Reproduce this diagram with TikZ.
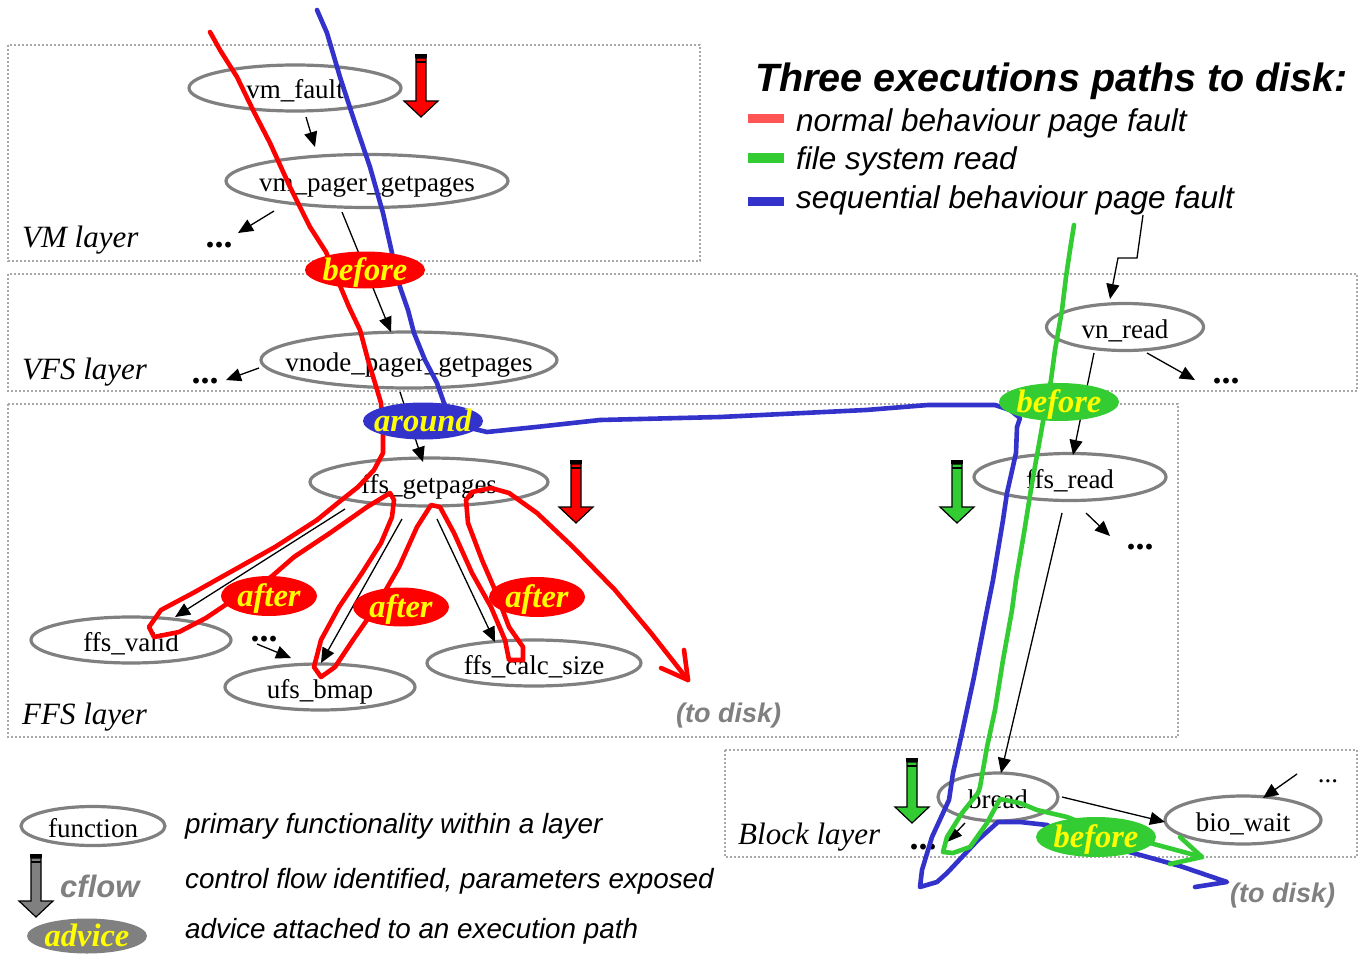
\documentclass[tikz,border=0pt]{standalone}
\usepackage{fontspec}
\setmainfont{Liberation Serif}
\setsansfont{Liberation Sans}
\usetikzlibrary{arrows.meta,shapes.geometric}

\definecolor{pathred}{HTML}{FF0000}
\definecolor{pathgreen}{HTML}{33CC33}
\definecolor{pathblue}{HTML}{3333CC}
\definecolor{keyred}{HTML}{FF5555}
\definecolor{fngray}{HTML}{808080}
\definecolor{boxgray}{HTML}{A8A8A8}
\definecolor{advyellow}{HTML}{FFFF00}

% block arrow marking an identified control flow: x, top, tip, fill colour
\newcommand{\cflowarrow}[4]{%
  \filldraw[fill=#4, draw=black, line width=1.2pt, line join=miter]
    (#1-5,#2+4) -- (#1+5,#2+4) -- (#1+5,#3-16) -- (#1+17,#3-16) -- (#1,#3)
    -- (#1-17,#3-16) -- (#1-5,#3-16) -- cycle;
  \fill[black] (#1-6,#2) rectangle (#1+6,#2+4);
  \draw[black, line width=1.2pt] (#1-5,#2+8) -- (#1+5,#2+8);
}
% label whose width does not widen its ellipse
\newcommand{\lbl}[1]{\makebox[0pt]{#1}}

\tikzset{
  fn/.style={ellipse, draw=fngray, line width=3.2pt, inner sep=0pt,
    text height=24pt, text depth=2pt,
    font=\fontsize{27}{30}\selectfont},
  advice/.style={ellipse, inner sep=0pt, text=advyellow,
    text height=22pt, text depth=2pt,
    font=\fontsize{32.5}{35}\selectfont\bfseries\itshape},
  layerbox/.style={draw=boxgray, line width=1.5pt, dash pattern=on 2pt off 2pt},
  layerlabel/.style={anchor=base west, inner sep=0pt,
    font=\fontsize{31}{34}\selectfont\itshape},
  call/.style={draw=black, line width=1.3pt, -{Triangle[length=15pt,width=13pt]}},
  dots/.style={anchor=base, inner sep=0pt, font=\fontsize{36}{38}\selectfont\bfseries},
  exec/.style={line width=4.6pt, line join=round, line cap=round},
  todisk/.style={anchor=base west, inner sep=0pt, text=fngray,
    font=\sffamily\bfseries\itshape\fontsize{27}{30}\selectfont},
  keytext/.style={anchor=base west, inner sep=0pt,
    font=\sffamily\itshape\fontsize{31.5}{36}\selectfont},
  notetext/.style={anchor=base west, inner sep=0pt,
    font=\sffamily\itshape\fontsize{27.8}{32}\selectfont},
}

\begin{document}
\begin{tikzpicture}[x=1pt,y=-1pt]
\useasboundingbox (0,0) rectangle (1366,955);
\fill[white] (0,0) rectangle (1366,955);

% layers
\draw[layerbox] (8,45) rectangle (700,261);
\draw[layerbox] (8,274) rectangle (1357,391);
\draw[layerbox] (8,404) rectangle (1178,737);
\draw[layerbox] (725,750) rectangle (1357,857);

\node[layerlabel] (lvm)  at (22,247)  {VM layer};
\node[layerlabel] (lvfs) at (22,379)  {VFS layer};
\node[layerlabel] (lffs) at (22,724)  {FFS layer};
\node[layerlabel] (lblk) at (738,844) {Block layer};

% functions
\node[fn, minimum width=212pt, minimum height=46pt] (vmfault)   at (295,88)  {\lbl{vm\_fault}};
\node[fn, minimum width=282pt, minimum height=53pt] (vmpager)   at (367,181) {\lbl{vm\_pager\_getpages}};
\node[fn, minimum width=296pt, minimum height=56pt] (vnodepager) at (409,360) {\lbl{vnode\_pager\_getpages}};
\node[fn, minimum width=238pt, minimum height=48pt] (ffsget)    at (429,482) {\lbl{ffs\_getpages}};
\node[fn, minimum width=200pt, minimum height=46pt] (ffsvalid)  at (131,640) {\lbl{ffs\_valid}};
\node[fn, minimum width=190pt, minimum height=46pt] (ufsbmap)   at (320,687) {\lbl{ufs\_bmap}};
\node[fn, minimum width=214pt, minimum height=46pt] (ffscalc)   at (534,663) {\lbl{ffs\_calc\_size}};
\node[fn, minimum width=157pt, minimum height=47pt] (vnread)    at (1125,327) {\lbl{vn\_read}};
\node[fn, minimum width=192pt, minimum height=47pt] (ffsread)   at (1070,477) {\lbl{ffs\_read}};
\node[fn, minimum width=120pt, minimum height=48pt] (bread)     at (998,797) {\lbl{bread}};
\node[fn, minimum width=156pt, minimum height=48pt] (biowait)   at (1243,820) {\lbl{bio\_wait}};

% elided callers and callees
\node[dots] (vmdots)  at (219,247)  {...};
\node[dots] (vfsdots) at (205,383)  {...};
\node[dots] (ffsdots) at (264,641)  {...};
\node[dots] (vndots)  at (1226,383) {...};
\node[dots] (frdots)  at (1140,549) {...};
\node[dots] (blkdots) at (923,849)  {...};
\node[anchor=base, inner sep=0pt, font=\fontsize{27}{30}\selectfont] (biodots) at (1328,782) {...};

% calls
\draw[call] ([shift={(11,29)}]vmfault.center) -- ([shift={(-52,-34)}]vmpager.center);
\draw[call] ([shift={(-25,31)}]vmpager.center) -- ([shift={(-18,-28)}]vnodepager.center);
\draw[call] ([shift={(-9,32)}]vnodepager.center) -- ([shift={(-6,-20)}]ffsget.center);
\draw[call] ([shift={(-84,27)}]ffsget.center) -- ([shift={(44,-23)}]ffsvalid.center);
\draw[call] ([shift={(-27,37)}]ffsget.center) -- ([shift={(1,-24)}]ufsbmap.center);
\draw[call] ([shift={(8,37)}]ffsget.center) -- ([shift={(-39,-21)}]ffscalc.center);
\draw[call] ([shift={(-93,30)}]vmpager.center) -- ([shift={(19,-14)}]vmdots.base);
\draw[call] ([shift={(-150,8)}]vnodepager.center) -- ([shift={(21,-3)}]vfsdots.base);
\draw[call] ([shift={(-7,3)}]ffsdots.base) -- ([shift={(-29,-29)}]ufsbmap.center);
\coordinate (readcaller) at (1143,215);
\draw[call] (readcaller) -- (1137,258) -- (1118,258) -- ([shift={(-15,-28)}]vnread.center);
\draw[call] ([shift={(-31,26)}]vnread.center) -- ([shift={(3,-22)}]ffsread.center);
\draw[call] ([shift={(22,26)}]vnread.center) -- ([shift={(-31,-3)}]vndots.base);
\draw[call] ([shift={(16,36)}]ffsread.center) -- ([shift={(-30,-13)}]frdots.base);
\draw[call] ([shift={(-8,36)}]ffsread.center) -- ([shift={(3,-24)}]bread.center);
\draw[call] ([shift={(64,0)}]bread.center) -- ([shift={(-78,2)}]biowait.center);
\draw[call] ([shift={(-33,26)}]bread.center) -- ([shift={(24,-7)}]blkdots.base);
\draw[call] ([shift={(-31,-8)}]biodots.base) -- ([shift={(20,-22)}]biowait.center);

% normal behaviour page fault
\draw[exec, pathred] (210,32) -- (220,50) -- (237,77) -- (253,110) -- (270,143)
  -- (290,187) -- (310,227) -- (326,252) -- (341,288) -- (349,307) -- (360,330)
  -- (368,360) -- (375,383) -- (381,403) -- (383,430) -- (383,453) -- (374,470)
  -- (358,487) -- (339,502) -- (317,520) -- (275,547) -- (234,570) -- (193,593)
  -- (161,610) -- (149,627) -- (154,637) -- (179,632) -- (206,618) -- (243,593)
  -- (271,577) -- (294,557) -- (330,533) -- (367,507) -- (390,493) -- (394,500)
  -- (392,517) -- (381,543) -- (362,573) -- (339,607) -- (321,640) -- (314,667)
  -- (321,677) -- (335,667) -- (353,640) -- (376,607) -- (399,567) -- (417,527)
  -- (431,505) -- (440,507) -- (454,533) -- (472,573) -- (491,607) -- (505,640)
  -- (509,660) -- (523,660) -- (523,647) -- (509,627) -- (495,590) -- (482,560)
  -- (468,523) -- (466,500) -- (472,492) -- (491,488) -- (509,493) -- (537,513)
  -- (573,547) -- (615,590) -- (651,633) -- (688,680);
\draw[exec, pathred] (661,668) -- (688,680) -- (684,650);

% sequential behaviour page fault
\draw[exec, pathblue] (317,10) -- (327,33) -- (340,77) -- (353,117) -- (370,167)
  -- (383,213) -- (392,253) -- (400,287) -- (408,310) -- (414,333) -- (425,360)
  -- (437,383) -- (444,403) -- (455,420) -- (470,428) -- (487,432) -- (536,427)
  -- (600,420) -- (720,417) -- (866,410) -- (928,405) -- (995,405) -- (1010,410)
  -- (1020,418) -- (1017,427) -- (1016,453) -- (1007,493) -- (1003,520) -- (993,580)
  -- (987,610) -- (974,677) -- (962,733) -- (953,773) -- (949,800) -- (932,837)
  -- (922,870) -- (920,887) -- (937,882) -- (947,873) -- (978,840) -- (998,822)
  -- (1020,822) -- (1047,825) -- (1065,835) -- (1100,845) -- (1133,853)
  -- (1180,866) -- (1227,882) -- (1195,887);

% file system read
\draw[exec, pathgreen] (1074,225) -- (1070,250) -- (1066,277) -- (1062,310)
  -- (1055,350) -- (1051,380) -- (1045,410) -- (1041,433) -- (1032,483) -- (1024,533)
  -- (1016,580) -- (1012,610) -- (1003,660) -- (995,710) -- (987,747) -- (980,787)
  -- (978,793) -- (962,813) -- (947,837) -- (943,852) -- (953,853) -- (970,847)
  -- (987,823) -- (1000,799) -- (1020,803) -- (1037,810) -- (1067,817) -- (1100,830)
  -- (1150,843) -- (1202,857);
\draw[exec, pathgreen] (1180,837) -- (1202,857) -- (1170,864);

% advice
\node[advice, fill=pathred,  minimum width=120pt, minimum height=37pt] (beforevm) at (365,270) {\lbl{before}};
\node[advice, fill=pathblue, minimum width=120pt, minimum height=37pt] (around)   at (423,421) {\lbl{around}};
\node[advice, fill=pathred,  minimum width=96pt,  minimum height=40pt] (aftervalid) at (269,596) {\lbl{after}};
\node[advice, fill=pathred,  minimum width=96pt,  minimum height=39pt] (afterbmap)  at (401,607) {\lbl{after}};
\node[advice, fill=pathred,  minimum width=96pt,  minimum height=40pt] (aftercalc)  at (537,597) {\lbl{after}};
\node[advice, fill=pathgreen, minimum width=120pt, minimum height=38pt] (beforevn)   at (1059,402) {\lbl{before}};
\node[advice, fill=pathgreen, minimum width=120pt, minimum height=40pt] (beforebio)  at (1096,837) {\lbl{before}};

% control flows
\cflowarrow{421}{54}{117}{pathred}
\cflowarrow{576}{460}{523}{pathred}
\cflowarrow{957}{460}{523}{pathgreen}
\cflowarrow{912}{758}{823}{pathgreen}

\node[todisk] (diskffs) at (676,722) {(to disk)};
\node[todisk] (diskblk) at (1230,902) {(to disk)};

% path key
\node[anchor=base west, inner sep=0pt, font=\sffamily\bfseries\itshape\fontsize{39.5}{44}\selectfont]
  (title) at (755,92) {Three executions paths to disk:};
\fill[keyred]    (748,114) rectangle (784,123);
\fill[pathgreen] (748,153) rectangle (784,163);
\fill[pathblue]  (748,197) rectangle (784,206);
\node[keytext] (keyred)   at (796,132) {normal behaviour page fault};
\node[keytext] (keygreen) at (796,170) {file system read};
\node[keytext] (keyblue)  at (796,208) {sequential behaviour page fault};

% notation key
\node[fn, minimum width=144pt, minimum height=39pt] (keyfn) at (93,826) {\lbl{function}};
\cflowarrow{36}{854}{917}{fngray}
\node[anchor=base west, inner sep=0pt, text=fngray,
  font=\sffamily\bfseries\itshape\fontsize{31}{34}\selectfont] (keycflow) at (60,897) {cflow};
\node[advice, fill=fngray, minimum width=120pt, minimum height=35pt] (keyadvice) at (87,936) {\lbl{advice}};
\node[notetext] (notefn)     at (185,833) {primary functionality within a layer};
\node[notetext] (notecflow)  at (185,888) {control flow identified, parameters exposed};
\node[notetext] (noteadvice) at (185,938) {advice attached to an execution path};
\end{tikzpicture}
\end{document}
